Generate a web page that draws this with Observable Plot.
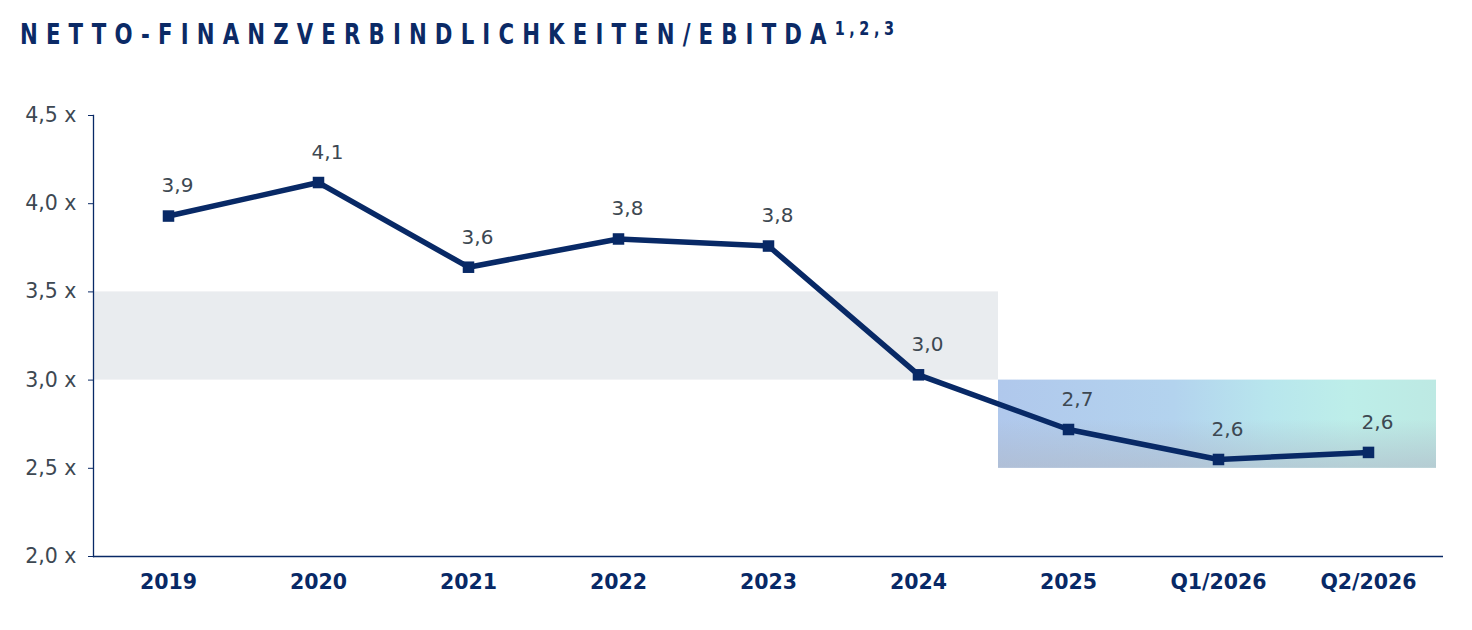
<!DOCTYPE html>
<html>
<head>
<meta charset="utf-8">
<script src="https://cdn.jsdelivr.net/npm/d3@7"></script>
<script src="https://cdn.jsdelivr.net/npm/@observablehq/plot@0.6"></script>
<style>
  body { margin: 0; background: #fff; }
  #title { height: 70px; position: relative; }
  #title .t { position: absolute; left: 20px; top: 17px; white-space: nowrap;
    font-family: "DejaVu Sans", sans-serif; font-weight: bold; font-size: 28px; color: #0b2a66;
    letter-spacing: 10.7px; transform: scaleX(0.76); transform-origin: left top; }
  #title .t sup { font-size: 19px; letter-spacing: 6px; vertical-align: 9px; }
  svg g[aria-label="y-axis tick"] path { stroke: #0b2a66; }
</style>
</head>
<body>
<div id="title"><div class="t">NETTO-FINANZVERBINDLICHKEITEN/EBITDA<sup>1,2,3</sup></div></div>
<div id="chart"></div>
<script>
const categories = ["2019", "2020", "2021", "2022", "2023", "2024", "2025", "Q1/2026", "Q2/2026"];
const values = [3.93, 4.12, 3.64, 3.80, 3.76, 3.03, 2.72, 2.55, 2.59];
const valueLabels = ["3,9", "4,1", "3,6", "3,8", "3,8", "3,0", "2,7", "2,6", "2,6"];
const yTicks = [2.0, 2.5, 3.0, 3.5, 4.0, 4.5];
const yTickLabels = ["2,0 x", "2,5 x", "3,0 x", "3,5 x", "4,0 x", "4,5 x"];
const oldTarget = {from: "2019", to: "2024", low: 3.0, high: 3.5};
const newTarget = {from: "2025", to: "Q2/2026", low: 2.5, high: 3.0};

const navy = "#082966";
const gray = "#3d4852";
const data = categories.map((c, i) => ({cat: c, value: values[i], label: valueLabels[i]}));

const plot = Plot.plot({
  width: 1472,
  height: 560,
  marginTop: 45,
  marginBottom: 74,
  marginLeft: 93,
  marginRight: 29,
  style: {fontFamily: "DejaVu Sans, sans-serif", background: "#fff", overflow: "visible"},
  x: {type: "band", domain: categories, padding: 0},
  y: {domain: [2.0, 4.5]},
  marks: [
    Plot.rect([oldTarget], {x1: "from", x2: "to", y1: "low", y2: "high", fill: "#e9ecef", insetRight: -5}),
    Plot.rect([newTarget], {x1: "from", x2: "to", y1: "low", y2: "high", fill: "url(#gradH)", insetLeft: 5, insetRight: 7}),
    Plot.rect([newTarget], {x1: "from", x2: "to", y1: "low", y2: "high", fill: "url(#gradV)", insetLeft: 5, insetRight: 7}),
    Plot.axisY({ticks: yTicks, tickFormat: (d) => yTickLabels[yTicks.indexOf(d)], tickSize: 5, tickPadding: 12,
      fontSize: 20.5, fill: gray, stroke: navy, label: null}),
    Plot.axisX({tickSize: 0, tickPadding: 18, fontSize: 20.5, fontWeight: "bold", fill: navy, label: null}),
    Plot.ruleY([2.0], {stroke: navy, strokeWidth: 1.3}),
    Plot.frame({anchor: "left", stroke: navy, strokeWidth: 1.3}),
    Plot.line(data, {x: "cat", y: "value", stroke: navy, strokeWidth: 5.5, strokeLinejoin: "round"}),
    Plot.dot(data, {x: "cat", y: "value", symbol: "square", r: 6.5, fill: navy}),
    Plot.text(data, {x: "cat", y: "value", text: "label", dy: -30, dx: 9, fontSize: 20, fill: gray})
  ]
});

const defs = d3.select(plot).insert("defs", ":first-child");
const gh = defs.append("linearGradient").attr("id", "gradH").attr("x1", "0").attr("x2", "1").attr("y1", "0").attr("y2", "0");
[["0%", "#b0c8ec"], ["40%", "#b3d3ee"], ["62%", "#b8e6ed"], ["80%", "#bdeee9"], ["100%", "#bde9e3"]]
  .forEach(([o, c]) => gh.append("stop").attr("offset", o).attr("stop-color", c));
const gv = defs.append("linearGradient").attr("id", "gradV").attr("x1", "0").attr("x2", "0").attr("y1", "0").attr("y2", "1");
[["0%", "#aab4c6", 0], ["45%", "#aab4c6", 0], ["100%", "#b0b9c8", 0.6]]
  .forEach(([o, c, a]) => gv.append("stop").attr("offset", o).attr("stop-color", c).attr("stop-opacity", a));

document.getElementById("chart").appendChild(plot);
</script>
</body>
</html>
